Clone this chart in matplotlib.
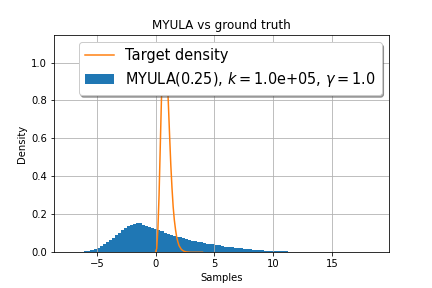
import numpy as np
import matplotlib
matplotlib.use("Agg")
import matplotlib.pyplot as plt

# target density
target_x = [0, 0.1, 0.2, 0.3, 0.4, 0.5, 0.6, 0.7, 0.8, 0.9, 1.0, 1.1, 1.2, 1.3,
            1.4, 1.5, 1.6, 1.7, 1.8, 1.9, 2.0, 2.2, 2.4, 2.6, 3.0, 3.5, 4.0]
target_y = [0, 0.02, 0.12, 0.30, 0.55, 0.80, 0.98, 1.07, 1.09, 1.04, 0.92, 0.77, 0.61, 0.46,
            0.34, 0.24, 0.17, 0.12, 0.08, 0.055, 0.035, 0.015, 0.006, 0.002, 0, 0, 0]

# MYULA histogram: 100 bins, densities per bin
bin_lo, bin_hi, n_bins = -7.35, 18.55, 100
hist_density = [
    0, 0, 0, 0, 0.004, 0.006, 0.008, 0.012, 0.016, 0.024,
    0.032, 0.042, 0.052, 0.063, 0.076, 0.090, 0.104, 0.117, 0.129, 0.140,
    0.146, 0.150, 0.155, 0.153, 0.146, 0.140, 0.135, 0.128, 0.122, 0.117,
    0.110, 0.104, 0.099, 0.093, 0.088, 0.083, 0.078, 0.074, 0.070, 0.066,
    0.062, 0.058, 0.055, 0.052, 0.049, 0.046, 0.044, 0.042, 0.039, 0.036,
    0.033, 0.030, 0.028, 0.026, 0.024, 0.022, 0.020, 0.018, 0.017, 0.015,
    0.013, 0.012, 0.011, 0.010, 0.009, 0.008, 0.008, 0.007, 0.007, 0.006,
    0.006, 0.005, 0.002, 0.001, 0, 0, 0, 0, 0, 0,
    0, 0, 0, 0, 0, 0, 0, 0, 0, 0,
    0, 0, 0, 0, 0, 0, 0, 0, 0, 0,
]

edges = np.linspace(bin_lo, bin_hi, n_bins + 1)

fig = plt.figure(figsize=(6, 4), dpi=72)
ax = fig.add_subplot(111)
fig.subplots_adjust(left=0.125, right=0.9, bottom=0.124, top=0.878)

ax.plot(target_x, target_y, color="C1", label="Target density")
ax.hist(edges[:-1], bins=edges, weights=hist_density, color="C0",
        label=r"MYULA(0.25), $k = $1.0e+05, $\gamma = 1.0$")

ax.set_xlim(-8.64, 19.85)
ax.grid(True)
ax.set_title("MYULA vs ground truth")
ax.set_xlabel("Samples")
ax.set_ylabel("Density")
ax.legend(loc="upper right", shadow=True, fontsize=14.5)

fig.savefig("out.png", dpi=72)
